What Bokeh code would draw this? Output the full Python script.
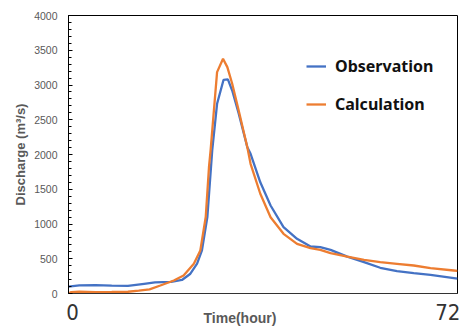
from bokeh.plotting import figure
from bokeh.models import (Range1d, SingleIntervalTicker, FixedTicker, Legend,
                          LegendItem, Title)
from bokeh.embed import file_html
from bokeh.resources import INLINE

# ---- data ----
obs_t = [0, 2, 5, 8, 11, 14, 16, 19, 21, 22.5, 23.8, 24.7, 25.7, 26.6, 27.5,
         28.7, 29.5, 30.3, 31.5, 33.1, 33.7, 35.5, 37.4, 39.8, 42.3, 44.8,
         46.6, 48.5, 51.6, 54.7, 57.7, 60.8, 63.9, 67.0, 72]
obs_v = [100, 118, 120, 112, 110, 140, 160, 168, 195, 280, 430, 620, 1100,
         2060, 2730, 3075, 3080, 2920, 2590, 2105, 2010, 1600, 1266, 954, 787,
         676, 666, 628, 530, 451, 370, 321, 292, 269, 215]

calc_t = [0, 0.5, 2, 5, 8, 11, 13, 15, 17, 19.5, 21.3, 23.2, 24.4, 25.4, 26.0,
          26.3, 27.5, 28.6, 29.4, 30.3, 31.5, 33.1, 33.7, 35.5, 37.4, 39.8,
          42.3, 44.8, 46.6, 48.5, 51.6, 54.7, 57.7, 60.8, 63.9, 67.0, 71.3, 72]
calc_v = [0, 20, 25, 20, 22, 25, 40, 60, 115, 187, 259, 427, 620, 1100, 1817,
          2058, 3185, 3377, 3257, 3018, 2633, 2105, 1866, 1435, 1098, 859,
          715, 652, 628, 580, 532, 485, 451, 427, 403, 364, 331, 325]

x_ticks = [0, 72]
x_tick_labels = ["0", "72"]
series_names = ["Observation", "Calculation"]

GRAY = "#595959"

p = figure(width=461, height=327, output_backend="svg", toolbar_location=None,
           x_range=Range1d(0, 72), y_range=Range1d(0, 4000),
           min_border_left=68, min_border_right=4, min_border_top=15,
           min_border_bottom=34)
p.xgrid.visible = False
p.ygrid.visible = False
p.outline_line_color = "black"
p.outline_line_width = 1

r1 = p.line(obs_t, obs_v, line_color="#4472C4", line_width=2.3)
r2 = p.line(calc_t, calc_v, line_color="#ED7D31", line_width=2.3)

# y axis
ya = p.yaxis[0]
ya.ticker = SingleIntervalTicker(interval=500, num_minor_ticks=5)
ya.major_tick_in = 4
ya.major_tick_out = 0
ya.minor_tick_in = 3
ya.minor_tick_out = 0
ya.major_tick_line_color = "black"
ya.minor_tick_line_color = "black"
ya.axis_line_color = "black"
ya.major_label_text_font_size = "10.5px"
ya.major_label_text_color = GRAY
ya.major_label_text_font = "Liberation Sans"
ya.major_label_standoff = 11
ya.axis_label = "Discharge (m\u00b3/s)"
ya.axis_label_text_font_size = "13px"
ya.axis_label_text_font_style = "bold"
ya.axis_label_text_color = GRAY
ya.axis_label_text_font = "Liberation Sans"
ya.axis_label_standoff = 3

# x axis (labels "0" left-aligned, "72" right-aligned to the frame)
xa = p.xaxis[0]
pos = [x_ticks[0] + 0.74, x_ticks[1] - 1.8]
xa.ticker = FixedTicker(ticks=pos, minor_ticks=[])
xa.major_label_overrides = {pos[i]: x_tick_labels[i] for i in range(2)}
xa.major_tick_line_color = None
xa.minor_tick_line_color = None
xa.axis_line_color = "#333333"
xa.major_label_text_font_size = "22px"
xa.major_label_text_font = "Liberation Sans Narrow, DejaVu Sans Condensed, sans-serif"
xa.major_label_text_color = "#333333"
xa.major_label_standoff = 4

# x-axis title as a "below" title, offset left of the frame centre
p.add_layout(Title(text="Time(hour)", align="left", vertical_align="top",
                   offset=135, standoff=-26,
                   text_font="Liberation Sans", text_font_size="14px",
                   text_font_style="bold", text_color=GRAY), "below")

legend = Legend(items=[LegendItem(label=series_names[0], renderers=[r1]),
                       LegendItem(label=series_names[1], renderers=[r2])],
                location=(238, 178), padding=0, margin=0,
                border_line_color=None, background_fill_alpha=0,
                glyph_width=20, glyph_height=20, label_height=20,
                spacing=16, label_standoff=9,
                label_text_font="Noto Sans", label_text_font_size="16px",
                label_text_font_style="bold", label_text_color="#111111")
p.add_layout(legend)

open("out.html", "w").write(file_html(p, INLINE))
